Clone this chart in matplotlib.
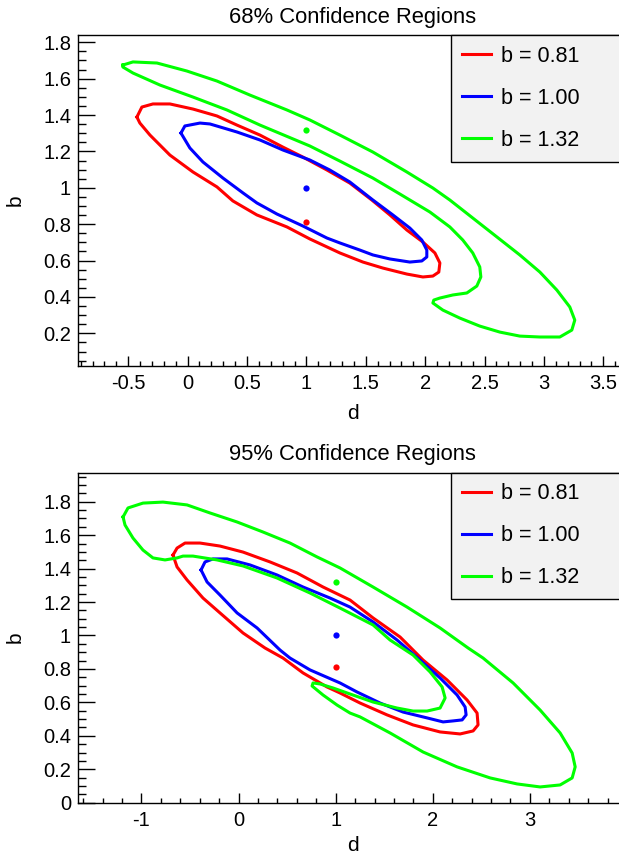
import matplotlib.pyplot as plt
from matplotlib.ticker import FixedLocator, MultipleLocator

params = {'font.family': ['Liberation Sans', 'DejaVu Sans'],
          'figure.figsize': (6.19, 8.58),
          'figure.dpi': 100,
          'axes.linewidth': 1.0,
          'xtick.direction': 'in',
          'ytick.direction': 'in'}
plt.rcParams.update(params)

labels = ['b = 0.81', 'b = 1.00', 'b = 1.32']
colors = ['#ff0000', '#0000ff', '#00ff00']
best_d = [1.0, 1.0, 1.0]
best_b = [0.81, 1.00, 1.32]

# 68% contours (d, b)
c68_red_d = [-0.427, -0.385, -0.292, -0.149, 0.045, 0.247, 0.415, 0.609, 0.802, 0.971, 1.173, 1.366,
             1.551, 1.703, 1.846, 1.981, 2.082, 2.124, 2.115, 2.065, 1.981, 1.846, 1.644, 1.476,
             1.282, 1.029, 0.836, 0.583, 0.381, 0.247, 0.045, -0.149, -0.317, -0.402]
c68_red_b = [1.389, 1.444, 1.461, 1.461, 1.433, 1.395, 1.345, 1.290, 1.224, 1.169, 1.098, 1.026,
             0.933, 0.851, 0.768, 0.702, 0.642, 0.587, 0.537, 0.515, 0.510, 0.526, 0.559, 0.592,
             0.642, 0.719, 0.785, 0.851, 0.928, 1.005, 1.087, 1.180, 1.290, 1.356]
c68_blue_d = [-0.056, -0.023, 0.104, 0.188, 0.415, 0.609, 0.802, 1.029, 1.197, 1.366, 1.560, 1.728,
              1.871, 1.972, 2.014, 2.014, 1.972, 1.871, 1.703, 1.560, 1.450, 1.282, 1.173, 0.971,
              0.752, 0.583, 0.466, 0.297, 0.129, 0.019]
c68_blue_b = [1.301, 1.340, 1.356, 1.351, 1.307, 1.263, 1.208, 1.153, 1.098, 1.032, 0.933, 0.851,
              0.779, 0.713, 0.658, 0.620, 0.598, 0.592, 0.609, 0.631, 0.658, 0.697, 0.724, 0.790,
              0.856, 0.917, 0.972, 1.054, 1.142, 1.219]
c68_green_d = [-0.545, -0.460, -0.258, -0.006, 0.247, 0.524, 0.836, 1.029, 1.282, 1.559, 1.846, 2.065,
               2.208, 2.401, 2.604, 2.797, 2.966, 3.109, 3.218, 3.260, 3.235, 3.134, 2.966, 2.797,
               2.629, 2.460, 2.292, 2.149, 2.065, 2.073, 2.123, 2.233, 2.351, 2.435, 2.469, 2.460,
               2.401, 2.317, 2.208, 2.040, 1.787, 1.559, 1.282, 1.029, 0.609, 0.331, 0.045, -0.233,
               -0.460, -0.545]
c68_green_b = [1.675, 1.692, 1.686, 1.642, 1.587, 1.510, 1.428, 1.373, 1.290, 1.197, 1.087, 0.999,
               0.933, 0.834, 0.730, 0.631, 0.537, 0.438, 0.345, 0.273, 0.218, 0.180, 0.180, 0.185,
               0.207, 0.240, 0.284, 0.328, 0.367, 0.383, 0.394, 0.411, 0.422, 0.460, 0.510, 0.565,
               0.642, 0.713, 0.785, 0.867, 0.966, 1.054, 1.147, 1.230, 1.345, 1.428, 1.499, 1.565,
               1.631, 1.664]

# 95% contours
c95_red_d = [-0.675, -0.633, -0.551, -0.397, -0.191, 0.046, 0.324, 0.602, 0.870, 1.148, 1.385, 1.663,
             1.900, 2.147, 2.353, 2.456, 2.466, 2.415, 2.281, 2.075, 1.797, 1.529, 1.251, 1.045,
             0.911, 0.664, 0.458, 0.273, 0.046, -0.191, -0.366, -0.530, -0.633]
c95_red_b = [1.481, 1.523, 1.553, 1.553, 1.535, 1.499, 1.440, 1.374, 1.290, 1.212, 1.105, 0.991,
             0.853, 0.734, 0.614, 0.536, 0.465, 0.429, 0.411, 0.423, 0.465, 0.525, 0.596, 0.656,
             0.692, 0.776, 0.865, 0.925, 1.015, 1.135, 1.224, 1.332, 1.410]
c95_blue_d = [-0.386, -0.345, -0.263, -0.118, 0.118, 0.396, 0.664, 0.942, 1.148, 1.385, 1.632, 1.869,
              2.075, 2.250, 2.333, 2.343, 2.302, 2.209, 2.106, 1.941, 1.694, 1.457, 1.220, 1.045,
              0.736, 0.530, 0.427, 0.191, -0.015, -0.191, -0.324]
c95_blue_b = [1.392, 1.440, 1.458, 1.458, 1.422, 1.362, 1.290, 1.224, 1.170, 1.081, 0.973, 0.853,
              0.746, 0.644, 0.572, 0.525, 0.495, 0.489, 0.483, 0.507, 0.542, 0.596, 0.662, 0.716,
              0.794, 0.865, 0.913, 1.045, 1.135, 1.242, 1.320]
c95_green_d = [-1.189, -1.138, -0.984, -0.778, -0.530, -0.294, -0.015, 0.252, 0.530, 0.808, 1.045, 1.385,
               1.735, 2.075, 2.364, 2.518, 2.827, 3.105, 3.311, 3.435, 3.466, 3.435, 3.311, 3.105,
               2.868, 2.590, 2.250, 1.900, 1.560, 1.251, 1.148, 1.014, 0.870, 0.757, 0.767, 0.839,
               0.973, 1.148, 1.385, 1.632, 1.797, 1.941, 2.075, 2.127, 2.096, 1.972, 1.797, 1.560,
               1.385, 1.045, 0.736, 0.396, 0.046, -0.221, -0.469, -0.572, -0.633, -0.757, -0.881,
               -0.984, -1.087, -1.169]
c95_green_b = [1.709, 1.763, 1.792, 1.798, 1.781, 1.733, 1.679, 1.619, 1.553, 1.470, 1.404, 1.290,
               1.170, 1.045, 0.925, 0.865, 0.716, 0.554, 0.417, 0.297, 0.214, 0.148, 0.106, 0.094,
               0.112, 0.148, 0.214, 0.303, 0.417, 0.513, 0.536, 0.584, 0.644, 0.698, 0.716, 0.710,
               0.686, 0.650, 0.602, 0.566, 0.548, 0.548, 0.566, 0.626, 0.692, 0.782, 0.883, 0.973,
               1.063, 1.164, 1.254, 1.344, 1.416, 1.452, 1.475, 1.475, 1.464, 1.452, 1.464,
               1.511, 1.583, 1.661]

top_xticks = [-0.5, 0, 0.5, 1, 1.5, 2, 2.5, 3, 3.5]
top_yticks = [0.2, 0.4, 0.6, 0.8, 1, 1.2, 1.4, 1.6, 1.8]
bot_xticks = [-1, 0, 1, 2, 3]
bot_yticks = [0, 0.2, 0.4, 0.6, 0.8, 1, 1.2, 1.4, 1.6, 1.8]

fig = plt.figure()
ax1 = fig.add_axes([0.126, 0.5734, 0.887, 0.3858])
ax2 = fig.add_axes([0.126, 0.0645, 0.887, 0.3848])


def panel(ax, contours, title, xlim, ylim, xticks, yticks, xminor, yminor, xpad):
    for (cd, cb), col, lab in zip(contours, colors, labels):
        ax.plot(cd + cd[:1], cb + cb[:1], color=col, lw=2.2, label=lab,
                solid_joinstyle='round')
    for d, b, col in zip(best_d, best_b, colors):
        ax.plot(d, b, 'o', color=col, ms=4.5, mec='none')
    ax.set_xlim(xlim)
    ax.set_ylim(ylim)
    ax.xaxis.set_major_locator(FixedLocator(xticks))
    ax.yaxis.set_major_locator(FixedLocator(yticks))
    ax.set_xticklabels(['%g' % t for t in xticks])
    ax.set_yticklabels(['%g' % t for t in yticks])
    ax.xaxis.set_minor_locator(MultipleLocator(xminor))
    ax.yaxis.set_minor_locator(MultipleLocator(yminor))
    ax.tick_params(axis='both', which='both', labelsize=14.5, top=False, right=False)
    ax.tick_params(axis='x', which='major', length=7.2, width=1.0, pad=6)
    ax.tick_params(axis='x', which='minor', length=3.6, width=1.0)
    ax.tick_params(axis='y', which='major', length=12, width=1.0, pad=5)
    ax.tick_params(axis='y', which='minor', length=5.8, width=1.0)
    ax.set_xlabel('d', fontsize=15, labelpad=xpad)
    ax.set_ylabel('b', fontsize=15, labelpad=13)
    ax.set_title(title, fontsize=15.8, pad=9)
    leg = ax.legend(loc='upper left', bbox_to_anchor=(0.679, 0.0, 0.321, 1.0), mode='expand',
                    borderaxespad=0, fontsize=15.5, fancybox=False, framealpha=1,
                    facecolor='#f2f2f2', edgecolor='black', handlelength=1.35,
                    handletextpad=0.5, labelspacing=0.98, borderpad=0.5)
    leg.get_frame().set_linewidth(1.0)


panel(ax1, [(c68_red_d, c68_red_b), (c68_blue_d, c68_blue_b), (c68_green_d, c68_green_b)],
      '68% Confidence Regions', (-0.923, 3.70), (0.0205, 1.840),
      top_xticks, top_yticks, 0.1, 0.05, 8)
panel(ax2, [(c95_red_d, c95_red_b), (c95_blue_d, c95_blue_b), (c95_green_d, c95_green_b)],
      '95% Confidence Regions', (-1.653, 4.0), (0.0, 1.975),
      bot_xticks, bot_yticks, 0.2, 0.05, 4)

plt.savefig('out.png', dpi=100)
